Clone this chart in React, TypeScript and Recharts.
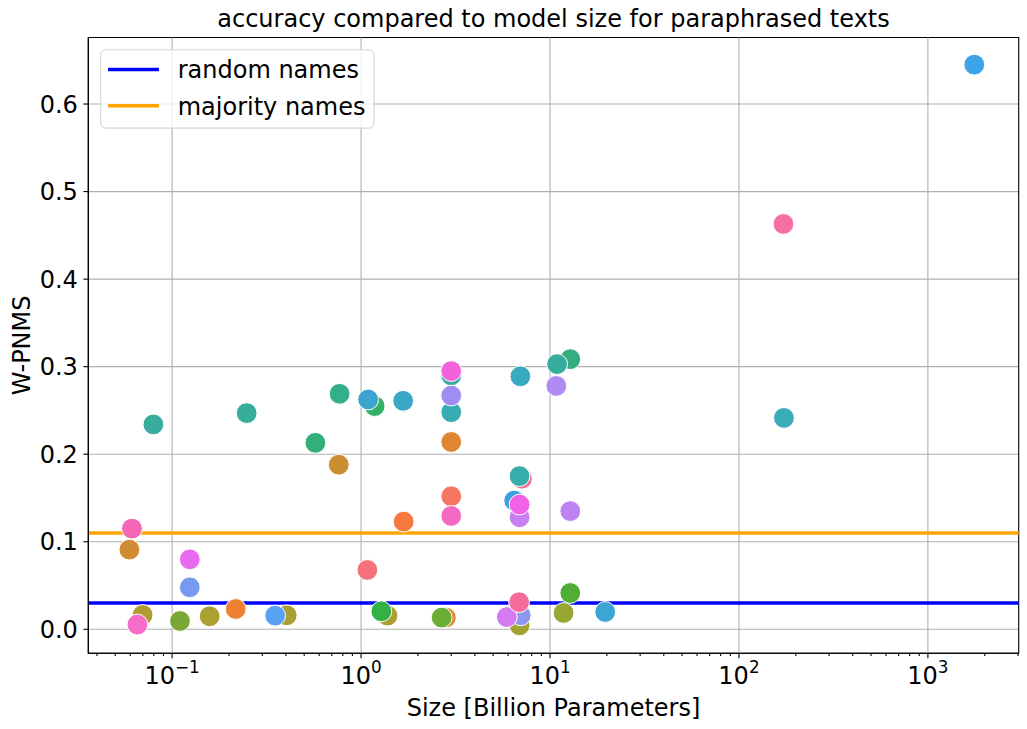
import {
  ScatterChart,
  Scatter,
  XAxis,
  YAxis,
  CartesianGrid,
  ReferenceLine,
  ReferenceArea,
} from "recharts";

// model size in billion parameters (log axis)
const modelSize = [
  1.18, 3.0, 3.0, 7.1, 6.46, 6.9, 6.9, 7.0, 5.91, 2.81, 1.38, 0.404, 0.0698, 12.8,
  0.0796, 0.248, 0.77, 1.09, 1.67, 0.573, 0.762, 1.68, 0.0613, 0.0594, 0.124, 0.124,
  0.0655, 0.11, 0.158, 0.217, 0.351, 1.08, 1.28, 3.0, 3.0, 3.0, 3.0, 3.0, 6.97, 10.9,
  10.8, 6.9, 6.9, 12.8, 2.67, 6.86, 12.8, 11.8, 19.6, 1760, 172, 173,
];

// W-PNMS score per model
const wpnms = [
  0.255, 0.29, 0.248, 0.172, 0.147, 0.128, 0.0046, 0.016, 0.014, 0.0134, 0.0156, 0.016,
  0.0164, 0.3086, 0.234, 0.247, 0.269, 0.2625, 0.261, 0.213, 0.188, 0.123, 0.115, 0.091,
  0.08, 0.048, 0.0054, 0.0095, 0.0149, 0.0232, 0.0156, 0.0678, 0.0206, 0.295, 0.267,
  0.214, 0.152, 0.1295, 0.289, 0.303, 0.278, 0.175, 0.1425, 0.135, 0.0134, 0.031,
  0.0415, 0.0187, 0.0198, 0.645, 0.463, 0.2415,
];

// hue per model (husl-like palette)
const pointColor = [
  "#32b166", "#37ad9e", "#37acb2", "#f5708f", "#3b9fe0", "#c97ff2", "#a2a232", "#8c97f1",
  "#d57af1", "#e48a3a", "#aba033", "#a9a031", "#b09c30", "#35ae7f", "#38ad9e", "#36ad9a",
  "#35ae8c", "#3ba4cf", "#39a8c5", "#33b07a", "#c98f31", "#f7793f", "#f566b6", "#cf8c34",
  "#e76af0", "#769af0", "#f56dc8", "#7aa636", "#aba031", "#ee8034", "#58a2f6", "#f6727b",
  "#34b144", "#f262dc", "#9e8ef2", "#df8633", "#f77663", "#f46ac0", "#3aaac1", "#37ad9e",
  "#b08bf3", "#37adab", "#f160e6", "#bd83f2", "#6aae33", "#f56b9b", "#4fae35", "#98a634",
  "#3ba6d4", "#3ea4ea", "#f66fa2", "#39acb8",
];

const randomNames = 0.03;
const majorityNames = 0.11;

const majorX = [0.1, 1, 10, 100, 1000];
const minorX = [
  0.04, 0.05, 0.06, 0.07, 0.08, 0.09,
  0.2, 0.3, 0.4, 0.5, 0.6, 0.7, 0.8, 0.9,
  2, 3, 4, 5, 6, 7, 8, 9,
  20, 30, 40, 50, 60, 70, 80, 90,
  200, 300, 400, 500, 600, 700, 800, 900,
  2000, 3000,
];
const yTicks = [0, 0.1, 0.2, 0.3, 0.4, 0.5, 0.6];

const xDomain = [0.036, 3024];
const yDomain = [-0.0274, 0.676];

const data = modelSize.map((x, i) => ({ x, y: wpnms[i], color: pointColor[i] }));

const FONT = "DejaVu Sans";
const FS = 24;

const XTick = (props: any) => {
  const { x, y, payload } = props;
  const v = payload.value;
  const major = majorX.includes(v);
  const exp = Math.round(Math.log10(v));
  return (
    <g>
      <line x1={x} x2={x} y1={y} y2={y + (major ? 4.9 : 2.8)} stroke="#000" strokeWidth={1.1} />
      {major && (
        <text x={x} y={y + 31} textAnchor="middle" fontSize={FS} fontFamily={FONT} fill="#000">
          10
          <tspan dy={-11} fontSize={FS * 0.7}>
            {exp < 0 ? "\u2212" + Math.abs(exp) : String(exp)}
          </tspan>
        </text>
      )}
    </g>
  );
};

const Dot = (props: any) => {
  const { cx, cy, payload } = props;
  return <circle cx={cx} cy={cy} r={10.4} fill={payload.color} stroke="#fff" strokeWidth={1} />;
};

const XLabel = (props: any) => {
  const { viewBox } = props;
  return (
    <text x={viewBox.x + viewBox.width / 2} y={viewBox.y + 62.7} textAnchor="middle" fontSize={FS} fontFamily={FONT} fill="#000">
      Size [Billion Parameters]
    </text>
  );
};

const YLabel = (props: any) => {
  const { viewBox } = props;
  const cx = viewBox.x + 30;
  const cy = viewBox.y + viewBox.height / 2;
  return (
    <text x={cx} y={cy} transform={`rotate(-90 ${cx} ${cy})`} textAnchor="middle" fontSize={FS} fontFamily={FONT} fill="#000">
      W-PNMS
    </text>
  );
};

export default function App() {
  return (
    <div style={{ position: "absolute", left: 0, top: 0, width: 1027, height: 729, background: "#fff", fontFamily: FONT }}>
      <div
        style={{
          position: "absolute",
          left: 88,
          width: 931,
          top: 0,
          textAlign: "center",
          fontSize: FS,
          lineHeight: "38px",
          color: "#000",
        }}
      >
        accuracy compared to model size for paraphrased texts
      </div>

      <ScatterChart
        width={1027}
        height={729}
        margin={{ top: 37.5, right: 8.3, bottom: 0, left: 0 }}
        style={{ position: "absolute", left: 0, top: 0 }}
      >
        <CartesianGrid stroke="#b0b0b0" strokeWidth={1.1} vertical={false} />
        <XAxis
          type="number"
          dataKey="x"
          scale="log"
          domain={xDomain}
          allowDataOverflow
          ticks={[...majorX, ...minorX]}
          interval={0}
          tickSize={0}
          tickMargin={0}
          tick={<XTick />}
          height={75.7}
          axisLine={{ stroke: "#000", strokeWidth: 1.1 }}
          label={<XLabel />}
        />
        <YAxis
          type="number"
          dataKey="y"
          domain={yDomain}
          allowDataOverflow
          ticks={yTicks}
          interval={0}
          width={88.3}
          tickSize={4.9}
          tickMargin={5.5}
          tickFormatter={(v: number) => v.toFixed(1)}
          tick={{ fontSize: FS, fontFamily: FONT, fill: "#000" }}
          tickLine={{ stroke: "#000", strokeWidth: 1.1 }}
          axisLine={{ stroke: "#000", strokeWidth: 1.1 }}
          label={<YLabel />}
        />
        {majorX.map((v) => (
          <ReferenceLine key={v} x={v} stroke="#b0b0b0" strokeWidth={1.1} />
        ))}
        <Scatter data={data} shape={<Dot />} isAnimationActive={false} />
        <ReferenceLine y={randomNames} stroke="#0000ff" strokeWidth={3.5} />
        <ReferenceLine y={majorityNames} stroke="#ffa500" strokeWidth={3.5} />
        <ReferenceArea
          x1={xDomain[0]}
          x2={xDomain[1]}
          y1={yDomain[0]}
          y2={yDomain[1]}
          fill="none"
          fillOpacity={0}
          stroke="#000"
          strokeWidth={1.1}
        />
      </ScatterChart>

      <svg width={276} height={81} style={{ position: "absolute", left: 100, top: 48.5 }}>
        <rect x={0.7} y={0.8} width={273.3} height={78.3} rx={5} fill="rgba(255,255,255,0.8)" stroke="#d6d6d6" strokeWidth={1.1} />
        <line x1={9.8} x2={57.2} y1={20.5} y2={20.5} stroke="#0000ff" strokeWidth={3.5} strokeLinecap="square" />
        <text x={77.7} y={29.2} fontSize={FS} fontFamily={FONT} fill="#000">random names</text>
        <line x1={9.8} x2={57.2} y1={56.8} y2={56.8} stroke="#ffa500" strokeWidth={3.5} strokeLinecap="square" />
        <text x={77.7} y={65.5} fontSize={FS} fontFamily={FONT} fill="#000">majority names</text>
      </svg>
    </div>
  );
}
